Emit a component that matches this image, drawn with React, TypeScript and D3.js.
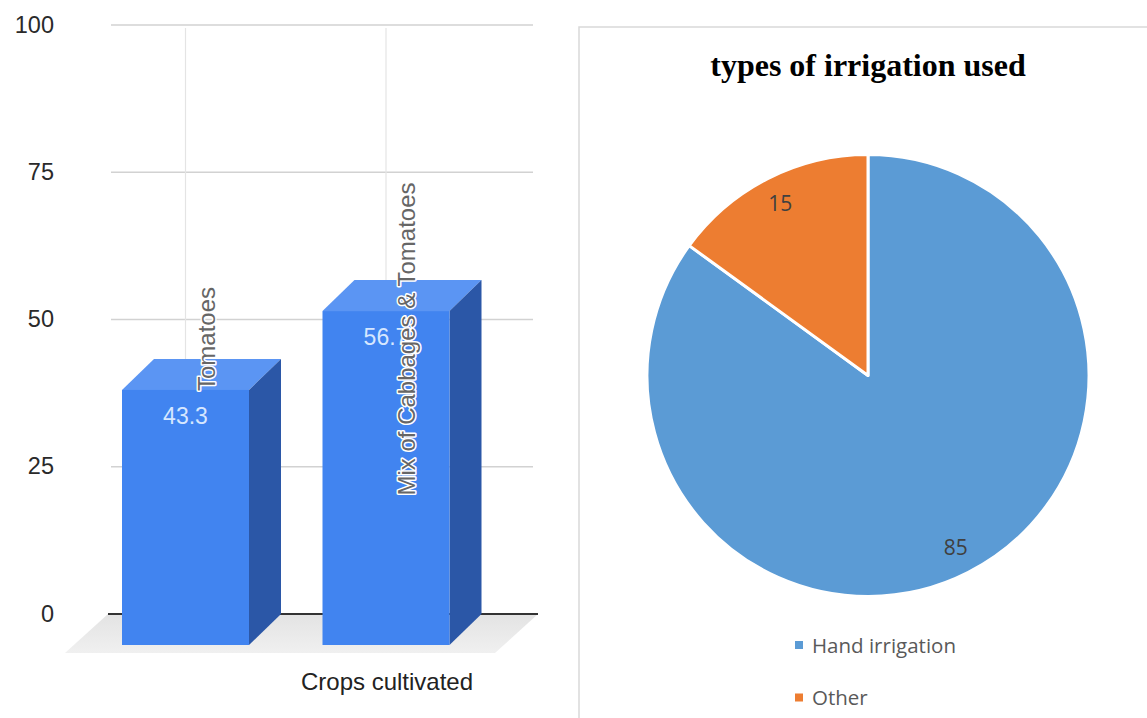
import React from "react";
import * as d3 from "d3";

// Bar chart: crops cultivated (%)
const crops = ["Tomatoes", "Mix of Cabbages & Tomatoes"];
const cropShares = [43.3, 56.7];
const yTicks = [0, 25, 50, 75, 100];

// Pie chart: types of irrigation used
const irrigationTypes = ["Hand irrigation", "Other"];
const irrigationValues = [85, 15];
const irrigationColors = ["#5B9BD5", "#ED7D31"];

const W = 1147;
const H = 718;

export default function App() {
  // ---- bar chart geometry ----
  const y = d3.scaleLinear().domain([0, 100]).range([614, 25]);
  const x = d3.scalePoint<string>().domain(crops).range([185.5, 386]);
  const plotLeft = 108;
  const plotRight = 536;
  const barW = 127;
  const depthX = 32;
  const depthY = 31;

  // ---- pie geometry ----
  const cx = 868;
  const cy = 375.5;
  const r = 221;
  const pie = d3
    .pie<number>()
    .sort(null)
    .value((d) => d)(irrigationValues);
  const arc = d3.arc<d3.PieArcDatum<number>>().innerRadius(0).outerRadius(r);
  const labelArc = d3
    .arc<d3.PieArcDatum<number>>()
    .innerRadius(r * 0.875)
    .outerRadius(r * 0.875);

  const sans = "'Liberation Sans', Arial, sans-serif";
  const office = "'Open Sans', 'Noto Sans', sans-serif";

  return (
    <svg
      width={W}
      height={H}
      viewBox={`0 0 ${W} ${H}`}
      style={{ position: "absolute", left: 0, top: 0, background: "#fff" }}
    >
      <defs>
        <linearGradient id="floorGrad" x1="0" y1="0" x2="0" y2="1">
          <stop offset="0" stopColor="#e3e3e3" />
          <stop offset="1" stopColor="#f0f0f0" />
        </linearGradient>
      </defs>

      {/* ===== Left: 3D column chart ===== */}
      <g>
        {/* floor */}
        <path
          d={`M${plotLeft},${y(0)} L${plotRight + 2},${y(0)} L${plotRight - 41},${y(0) + 39} L${plotLeft - 43},${y(0) + 39} Z`}
          fill="url(#floorGrad)"
        />
        {/* horizontal gridlines */}
        {yTicks
          .filter((t) => t !== 0)
          .map((t) => (
            <line
              key={`g${t}`}
              x1={plotLeft + 3}
              x2={plotRight - 3}
              y1={y(t)}
              y2={y(t)}
              stroke="#d2d2d2"
              strokeWidth={1.5}
            />
          ))}
        {/* vertical gridlines */}
        {crops.map((c) => (
          <line
            key={`v${c}`}
            x1={x(c)!}
            x2={x(c)!}
            y1={28}
            y2={y(0)}
            stroke="#e4e4e4"
            strokeWidth={1.2}
          />
        ))}
        {/* zero baseline */}
        <line
          x1={plotLeft}
          x2={plotRight + 2}
          y1={y(0)}
          y2={y(0)}
          stroke="#333"
          strokeWidth={2}
        />
        {/* y tick labels */}
        {yTicks.map((t) => (
          <text
            key={`t${t}`}
            x={54}
            y={y(t) + 7.5}
            textAnchor="end"
            fontFamily={sans}
            fontSize={23.5}
            fill="#2a2a2a"
          >
            {t}
          </text>
        ))}

        {/* bars */}
        {crops.map((c, i) => {
          const v = cropShares[i];
          const left = x(c)! - barW / 2;
          const right = left + barW;
          const topBack = y(v);
          const topFront = topBack + depthY;
          const bottomFront = y(0) + depthY;
          return (
            <g key={`b${c}`}>
              {/* top face */}
              <path
                d={`M${left},${topFront} L${left + depthX},${topBack} L${right + depthX},${topBack} L${right},${topFront} Z`}
                fill="#5b95f3"
              />
              {/* side face */}
              <path
                d={`M${right},${topFront} L${right + depthX},${topBack} L${right + depthX},${y(0)} L${right},${bottomFront} Z`}
                fill="#2b57a7"
              />
              {/* front face */}
              <rect
                x={left}
                y={topFront}
                width={barW}
                height={bottomFront - topFront}
                fill="#4184f0"
              />
            </g>
          );
        })}

        {/* value labels */}
        {crops.map((c, i) => (
          <text
            key={`val${c}`}
            x={x(c)!}
            y={y(cropShares[i]) + depthY + 34}
            textAnchor="middle"
            fontFamily={sans}
            fontSize={23}
            fill="#d6e7ff"
          >
            {cropShares[i]}
          </text>
        ))}

        {/* rotated category labels */}
        {crops.map((c) => {
          const lx = x(c)! + depthX - 3;
          const ly = 339;
          return (
            <text
              key={`cat${c}`}
              transform={`translate(${lx},${ly}) rotate(-90)`}
              textAnchor="middle"
              fontFamily={sans}
              fontSize={24}
              fill="#666"
              stroke="#ffffff"
              strokeWidth={3}
              paintOrder="stroke"
              strokeLinejoin="round"
            >
              {c}
            </text>
          );
        })}

        {/* axis title */}
        <text
          x={387}
          y={690}
          textAnchor="middle"
          fontFamily={sans}
          fontSize={24}
          fill="#222"
        >
          Crops cultivated
        </text>
      </g>

      {/* ===== Right: pie chart ===== */}
      <g>
        <rect
          x={579}
          y={27}
          width={620}
          height={720}
          fill="#fff"
          stroke="#d9d9d9"
          strokeWidth={1.5}
        />
        <text
          x={868}
          y={76}
          textAnchor="middle"
          fontFamily="'Liberation Serif', 'Times New Roman', serif"
          fontWeight="bold"
          fontSize={32}
          fill="#000"
        >
          types of irrigation used
        </text>
        <g transform={`translate(${cx},${cy})`}>
          {pie.map((p, i) => (
            <path
              key={`s${i}`}
              d={arc(p) || ""}
              fill={irrigationColors[i]}
              stroke="#fff"
              strokeWidth={3}
              strokeLinejoin="round"
            />
          ))}
          {pie.map((p, i) => {
            const [lx, ly] = labelArc.centroid(p);
            return (
              <text
                key={`l${i}`}
                x={lx}
                y={ly}
                dy="0.35em"
                textAnchor="middle"
                fontFamily={office}
                fontSize={21}
                fill="#404040"
              >
                {irrigationValues[i]}
              </text>
            );
          })}
        </g>
        {/* legend */}
        {irrigationTypes.map((t, i) => (
          <g key={`lg${t}`} transform={`translate(795,${641 + i * 52.5})`}>
            <rect width={8} height={8} fill={irrigationColors[i]} />
            <text
              x={17}
              y={11.5}
              fontFamily={office}
              fontSize={20.5}
              fill="#595959"
            >
              {t}
            </text>
          </g>
        ))}
      </g>
    </svg>
  );
}
